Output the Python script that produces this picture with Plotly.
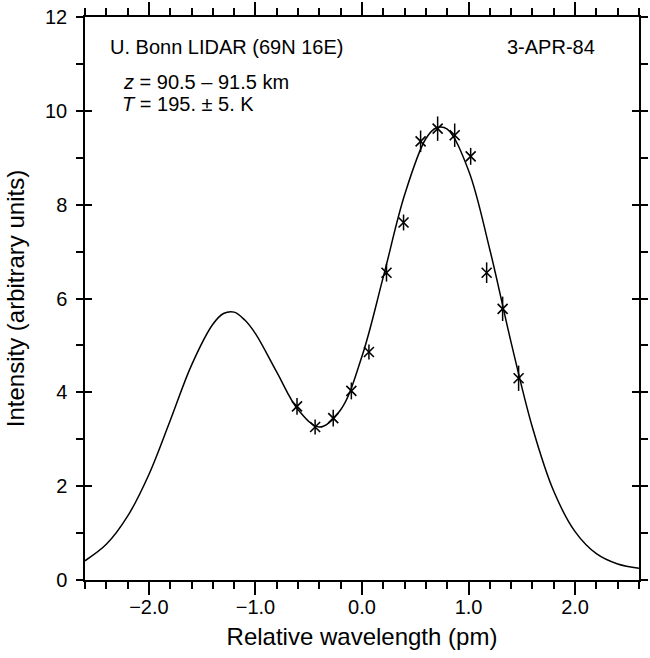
import plotly.graph_objects as go

# Measured data points (relative wavelength in pm, intensity, 1-sigma error)
wl_pts = [-0.61, -0.44, -0.27, -0.10, 0.065, 0.23, 0.39, 0.55, 0.71, 0.87, 1.02, 1.17, 1.32, 1.47]
int_pts = [3.70, 3.26, 3.45, 4.03, 4.86, 6.55, 7.62, 9.35, 9.62, 9.48, 9.03, 6.55, 5.78, 4.30]
err_pts = [0.18, 0.16, 0.18, 0.18, 0.16, 0.19, 0.17, 0.23, 0.26, 0.25, 0.18, 0.22, 0.26, 0.27]

# Fitted curve
wl_fit = [-2.6, -2.4, -2.2, -2.0, -1.8, -1.6, -1.4, -1.3, -1.2, -1.1, -1.0, -0.8, -0.6, -0.4, -0.2,
          0.0, 0.2, 0.4, 0.6, 0.7, 0.8, 1.0, 1.2, 1.4, 1.6, 1.8, 2.0, 2.2, 2.4, 2.6]
int_fit = [0.41, 0.76, 1.36, 2.25, 3.40, 4.58, 5.45, 5.68, 5.71, 5.54, 5.25, 4.43, 3.63, 3.26, 3.63,
           4.77, 6.46, 8.21, 9.41, 9.64, 9.61, 8.73, 7.04, 5.06, 3.25, 1.89, 1.03, 0.56, 0.34, 0.25]

x_tickvals = [-2, -1, 0, 1, 2]
x_ticktext = ["\u22122.0", "\u22121.0", "0.0", "1.0", "2.0"]
y_tickvals = [0, 2, 4, 6, 8, 10, 12]
y_ticktext = ["0", "2", "4", "6", "8", "10", "12"]

FONT = "Liberation Sans, Arial, Helvetica, sans-serif"
FS = 20

fig = go.Figure()
fig.add_trace(go.Scatter(x=wl_fit, y=int_fit, mode="lines",
                         line=dict(color="black", width=1.5, shape="spline", smoothing=1.0),
                         showlegend=False, hoverinfo="skip"))
fig.add_trace(go.Scatter(x=wl_pts, y=int_pts, mode="markers",
                         marker=dict(symbol="x-thin", size=10, line=dict(color="black", width=1.6)),
                         error_y=dict(type="data", array=err_pts, visible=True, width=0,
                                      thickness=1.5, color="black"),
                         showlegend=False))
# invisible trace to carry the overlay axis with inside ticks
fig.add_trace(go.Scatter(x=[0], y=[0], yaxis="y2", mode="markers",
                         marker=dict(opacity=0), showlegend=False, hoverinfo="skip"))

fig.update_layout(
    width=650, height=658,
    margin=dict(l=85, r=2, t=15, b=78),
    paper_bgcolor="white", plot_bgcolor="white",
    font=dict(family=FONT, size=FS, color="black"),
    xaxis=dict(range=[-2.6, 2.6], showgrid=False, zeroline=False,
               showline=True, linecolor="black", linewidth=1.5, mirror="ticks",
               ticks="outside", ticklen=13, tickwidth=1.5, tickcolor="black",
               tickmode="array", tickvals=x_tickvals, ticktext=x_ticktext,
               ticklabelstandoff=-5,
               minor=dict(tickmode="linear", tick0=0, dtick=0.2, ticks="outside",
                          ticklen=7, tickwidth=1.5, tickcolor="black", showgrid=False),
               title=dict(text="Relative wavelength (pm)", standoff=11)),
    yaxis=dict(range=[0, 12], showgrid=False, zeroline=False,
               showline=True, linecolor="black", linewidth=1.5, mirror="ticks",
               ticks="outside", ticklen=7, tickwidth=1.5, tickcolor="black",
               tickmode="array", tickvals=y_tickvals, ticktext=y_ticktext,
               ticklabelstandoff=5,
               minor=dict(tickmode="linear", tick0=0, dtick=1, ticks="outside",
                          ticklen=7, tickwidth=1.5, tickcolor="black", showgrid=False),
               title=dict(text="Intensity (arbitrary units)", standoff=14)),
    yaxis2=dict(range=[0, 12], overlaying="y", side="left", showgrid=False, zeroline=False,
                showline=True, linecolor="black", linewidth=1.5, mirror="ticks",
                ticks="inside", ticklen=7, tickwidth=1.5, tickcolor="black",
                tickmode="array", tickvals=y_tickvals, showticklabels=False),
)

ann = dict(xref="paper", yref="paper", showarrow=False, font=dict(family=FONT, size=FS, color="black"))
fig.add_annotation(text="U. Bonn LIDAR (69N 16E)", x=0.041, y=0.946, xanchor="left", yanchor="middle", **ann)
fig.add_annotation(text="3-APR-84", x=0.925, y=0.946, xanchor="right", yanchor="middle", **ann)
fig.add_annotation(text="<i>z</i> = 90.5 \u2013 91.5 km", x=0.065, y=0.884, xanchor="left", yanchor="middle", **ann)
fig.add_annotation(text="<i>T</i> = 195. \u00b1 5. K", x=0.064, y=0.845, xanchor="left", yanchor="middle", **ann)

fig.write_html("out.html", config={"displayModeBar": False},
               post_script="document.body.style.margin='0px';document.body.style.overflow='hidden';")
